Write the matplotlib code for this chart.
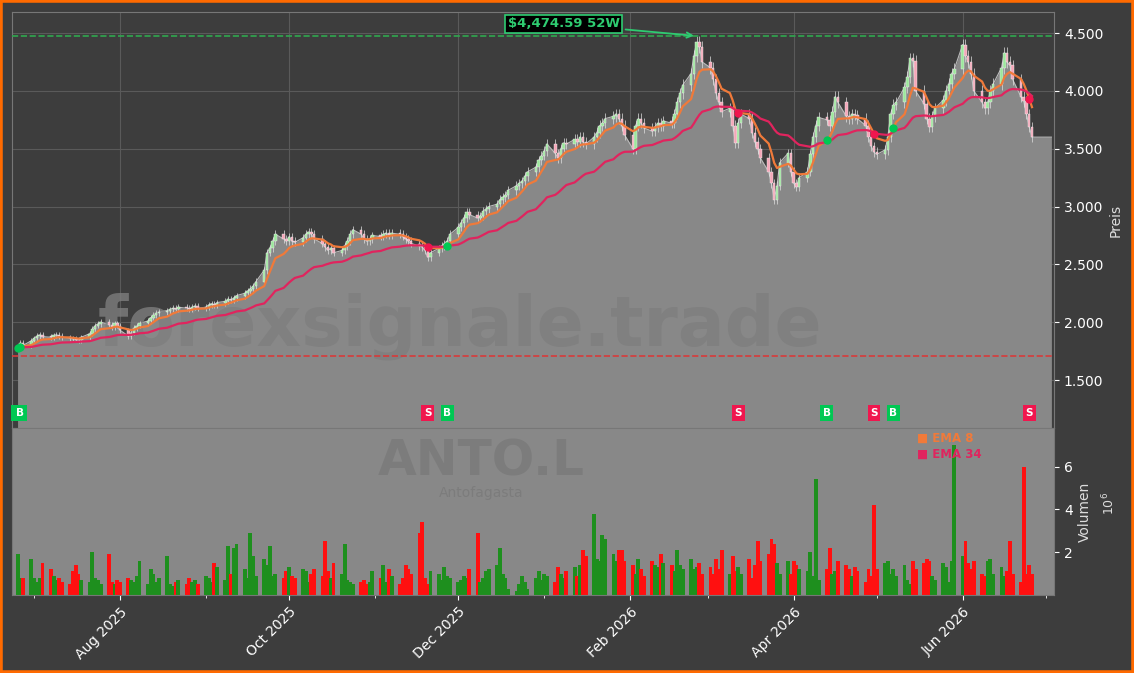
import numpy as np
import pandas as pd
import matplotlib
matplotlib.use("Agg")
import matplotlib.pyplot as plt
import matplotlib.dates as mdates
from matplotlib.ticker import FuncFormatter, FixedLocator

# ---------------- data ----------------
closes_jun25 = [1780, 1820, 1800, 1840]
closes_jul25 = [1860, 1880, 1890, 1875, 1870, 1885, 1890, 1880, 1870, 1860, 1855, 1850, 1845, 1870, 1900, 1940, 1970, 1985, 2000, 1980, 1960, 1990, 1970]
closes_aug25 = [1930, 1880, 1910, 1950, 1970, 1990, 2010, 2040, 2060, 2080, 2090, 2100, 2110, 2120, 2110, 2130, 2120, 2110, 2130, 2140, 2120]
closes_sep25 = [2130, 2150, 2160, 2150, 2170, 2180, 2200, 2190, 2210, 2230, 2250, 2270, 2290, 2310, 2350, 2450, 2600, 2640, 2700, 2760, 2720, 2700]
closes_oct25 = [2740, 2700, 2690, 2730, 2760, 2780, 2760, 2720, 2680, 2650, 2620, 2640, 2600, 2620, 2660, 2700, 2760, 2800, 2760, 2720, 2700, 2720, 2750]
closes_nov25 = [2740, 2760, 2770, 2750, 2770, 2760, 2740, 2720, 2700, 2680, 2660, 2650, 2620, 2560, 2600, 2640, 2660, 2680, 2700, 2760]
closes_dec25 = [2820, 2860, 2900, 2950, 2930, 2900, 2920, 2960, 2980, 3000, 3020, 3060, 3080, 3100, 3140, 3180, 3200, 3220, 3260, 3300, 3340, 3400, 3440]
closes_jan26 = [3480, 3540, 3460, 3420, 3500, 3550, 3540, 3580, 3560, 3600, 3560, 3540, 3600, 3640, 3700, 3720, 3760, 3780, 3800, 3760, 3700, 3620]
closes_feb26 = [3500, 3700, 3760, 3720, 3680, 3650, 3690, 3720, 3700, 3740, 3720, 3800, 3900, 3980, 4050, 4150, 4300, 4420, 4380, 4250]
closes_mar26 = [4200, 4100, 3980, 3900, 3820, 3850, 3700, 3550, 3720, 3800, 3760, 3640, 3560, 3500, 3420, 3300, 3200, 3060, 3180, 3380, 3460, 3300]
closes_apr26 = [3200, 3170, 3250, 3300, 3450, 3600, 3700, 3770, 3750, 3700, 3820, 3950, 3900, 3780, 3760, 3800, 3790, 3760, 3700, 3600, 3520, 3470]
closes_may26 = [3450, 3490, 3600, 3800, 3880, 3900, 4030, 4120, 4280, 4260, 4000, 3890, 3760, 3690, 3780, 3850, 3920, 4000, 4060, 4150, 4190]
closes_jun26 = [4400, 4300, 4250, 4150, 4000, 3900, 3850, 3900, 4000, 4060, 4200, 4330, 4250, 4220, 4100, 3950, 3910, 3800, 3690, 3600]

vol_jun25 = [1.9, 0.8, 0.8, 1.7]
vol_jul25 = [0.8, 0.6, 0.8, 1.5, 1.2, 0.9, 0.7, 0.8, 0.6, 0.5, 1.1, 1.4, 1.0, 0.7, 0.6, 2.0, 0.8, 0.7, 0.5, 1.9, 0.6, 0.5, 0.7]
vol_aug25 = [0.6, 0.8, 0.7, 0.6, 0.9, 1.6, 0.5, 1.2, 1.0, 0.6, 0.8, 1.8, 0.5, 0.4, 0.6, 0.7, 0.5, 0.8, 0.6, 0.7, 0.5]
vol_sep25 = [0.9, 0.8, 0.6, 1.5, 1.3, 0.7, 2.3, 1.0, 2.2, 2.4, 1.2, 0.8, 2.9, 1.8, 0.9, 1.7, 1.4, 2.3, 0.9, 1.0, 0.8, 1.1]
vol_oct25 = [1.3, 0.9, 0.8, 1.2, 1.1, 0.6, 1.0, 1.2, 0.9, 2.5, 1.1, 0.8, 1.5, 1.0, 2.4, 0.7, 0.6, 0.5, 0.6, 0.7, 0.5, 0.6, 1.1]
vol_nov25 = [0.8, 1.4, 0.6, 1.2, 0.9, 0.5, 0.8, 1.4, 1.2, 1.0, 2.9, 3.4, 0.8, 0.5, 1.1, 1.0, 0.7, 1.3, 0.9, 0.8]
vol_dec25 = [0.6, 0.7, 0.9, 0.8, 1.2, 2.9, 0.6, 0.8, 1.1, 1.2, 1.4, 2.2, 1.0, 0.8, 0.3, 0.2, 0.5, 0.9, 0.6, 0.3, 0.8, 1.1, 0.7]
vol_jan26 = [1.0, 0.9, 0.6, 1.3, 1.0, 0.8, 1.1, 1.3, 0.9, 1.4, 2.1, 1.8, 3.8, 1.7, 1.6, 2.8, 2.6, 1.9, 1.6, 2.1, 2.1, 1.6]
vol_feb26 = [1.4, 1.0, 1.7, 1.2, 0.9, 1.6, 1.4, 1.3, 1.9, 1.5, 1.4, 1.1, 2.1, 1.4, 1.2, 1.7, 1.2, 1.3, 1.5, 1.0]
vol_mar26 = [1.3, 1.0, 1.7, 1.2, 2.1, 1.0, 1.8, 1.1, 1.3, 1.0, 1.7, 0.8, 1.4, 2.5, 1.6, 1.9, 2.6, 2.4, 1.5, 1.0, 1.6, 1.0]
vol_apr26 = [1.6, 1.4, 1.2, 1.1, 2.0, 0.9, 5.4, 0.7, 1.2, 2.2, 1.0, 1.1, 1.6, 1.4, 1.2, 0.9, 1.3, 1.1, 0.6, 1.2, 0.9, 4.2]
vol_may26 = [1.2, 1.5, 1.6, 1.0, 1.2, 0.9, 1.4, 0.7, 0.5, 1.6, 1.2, 1.5, 1.7, 1.6, 0.9, 0.7, 1.5, 1.3, 0.6, 1.6, 7.0]
vol_jun26 = [1.8, 2.5, 1.5, 1.2, 1.6, 1.0, 0.9, 1.6, 1.7, 1.0, 1.3, 0.9, 1.1, 2.5, 1.0, 0.6, 6.0, 1.0, 1.4, 1.0]

high_52w = 4474.59
low_52w = 1712.0
ticker = "ANTO.L"
name = "Antofagasta"

# ---------------- build ----------------
closes = np.array(closes_jun25 + closes_jul25 + closes_aug25 + closes_sep25 + closes_oct25 + closes_nov25
                  + closes_dec25 + closes_jan26 + closes_feb26 + closes_mar26 + closes_apr26 + closes_may26 + closes_jun26, float)
vols = np.array(vol_jun25 + vol_jul25 + vol_aug25 + vol_sep25 + vol_oct25 + vol_nov25 + vol_dec25
                + vol_jan26 + vol_feb26 + vol_mar26 + vol_apr26 + vol_may26 + vol_jun26, float)
dates = pd.bdate_range("2025-06-25", "2026-06-26")
n = min(len(dates), len(closes), len(vols))
dates, closes, vols = dates[:n], closes[:n], vols[:n]
opens = np.concatenate([[closes[0]], closes[:-1]])
highs = np.maximum(opens, closes) * 1.012
lows = np.minimum(opens, closes) * 0.988
s = pd.Series(closes, index=dates)
ema8 = s.ewm(span=8, adjust=False).mean().values
ema34 = s.ewm(span=34, adjust=False).mean().values

BG = "#3d3d3d"
FILL = "#888888"
fig = plt.figure(figsize=(11.34, 6.73), dpi=100, facecolor=BG)
fig.patches.append(plt.Rectangle((0, 0), 1, 1, transform=fig.transFigure, fill=False,
                                 edgecolor="#ff6a00", linewidth=4, zorder=100))
ax = fig.add_axes([0.0106, 0.364, 0.919, 0.618], facecolor=BG)
axv = fig.add_axes([0.0106, 0.116, 0.919, 0.248], facecolor=FILL, sharex=ax)

x0 = pd.Timestamp("2025-06-23"); x1 = pd.Timestamp("2026-07-04")
ax.set_xlim(x0, x1)
ax.set_ylim(1085, 4681)

# area
fdates = list(dates) + [pd.Timestamp("2026-07-03")]
fclose = list(closes) + [closes[-1]]
ax.fill_between(fdates, fclose, 1085, color=FILL, zorder=1, linewidth=0)
ax.plot(fdates, fclose, color="#bbbbbb", lw=0.8, zorder=2)
ax.grid(True, color="#5a5a5a", lw=0.8, zorder=0)
ax.set_axisbelow(True)

# watermark
ax.text(0.43, 0.245, "forexsignale.trade", transform=ax.transAxes, fontsize=50, fontweight="bold",
        color="#7e7e7e", alpha=0.8, ha="center", va="center", zorder=2)

# candles
for d, o, h, l, c in zip(dates, opens, highs, lows, closes):
    col = "#9be79b" if c >= o else "#f4a6b8"
    ax.vlines(d, l, h, color="#e0e0e0", lw=0.5, zorder=3)
    ax.bar(d, max(abs(c - o), 8), bottom=min(o, c), width=0.9, color=col, edgecolor="#f0f0f0", lw=0.3, zorder=4)

ax.plot(dates, ema8, color="#f07a3a", lw=1.6, zorder=5)
ax.plot(dates, ema34, color="#e0245e", lw=1.6, zorder=5)

# 52w lines
ax.axhline(high_52w, color="#2fa84f", ls="--", lw=1.2, zorder=3)
ax.axhline(low_52w, color="#d83a3a", ls="--", lw=1.2, zorder=3)
imax = int(np.argmax(highs))
ax.annotate(f"${high_52w:,.2f} 52W", xy=(dates[imax], high_52w), xytext=(pd.Timestamp("2026-01-08"), 4580),
            color="#2ecc71", fontsize=9.5, fontweight="bold", ha="center", va="center",
            bbox=dict(boxstyle="square,pad=0.2", fc="black", ec="#2ecc71", lw=1.2),
            arrowprops=dict(arrowstyle="->", color="#2ecc71", lw=1.3), zorder=6)

# signals
diff = ema8 - ema34
sig_y = 1215
def sig(d, kind):
    fc = "#00c853" if kind == "B" else "#f0164e"
    ax.text(d, sig_y, kind, color="white", fontsize=7.5, fontweight="bold", ha="center", va="center",
            bbox=dict(boxstyle="square,pad=0.25", fc=fc, ec="none"), zorder=7)
sig(dates[0], "B")
ax.scatter([dates[0]], [ema34[0]], color="#00c853", s=25, zorder=6)
for i in range(1, n):
    if diff[i - 1] <= 0 < diff[i]:
        sig(dates[i], "B"); ax.scatter([dates[i]], [ema8[i]], color="#00c853", s=25, zorder=6)
    elif diff[i - 1] >= 0 > diff[i]:
        sig(dates[i], "S"); ax.scatter([dates[i]], [ema8[i]], color="#f0164e", s=25, zorder=6)

ax.yaxis.tick_right()
ax.yaxis.set_label_position("right")
ax.yaxis.set_major_locator(FixedLocator([1500, 2000, 2500, 3000, 3500, 4000, 4500]))
ax.yaxis.set_major_formatter(FuncFormatter(lambda v, p: f"{v:,.0f}".replace(",", ".")))
ax.tick_params(axis="y", colors="white", labelsize=10)
ax.tick_params(axis="x", labelbottom=False, length=0)
ax.set_ylabel("Preis", color="#dddddd", fontsize=10)
for sp in ax.spines.values():
    sp.set_color("#777777")

# volume
vcol = ["#1e8f1e" if c >= o else "#ff1010" for o, c in zip(opens, closes)]
axv.bar(dates, vols, width=1.4, color=vcol, zorder=2)
axv.set_ylim(0, 7.8)
axv.text(0.45, 0.8, ticker, transform=axv.transAxes, fontsize=36, fontweight="bold",
         color="#7c7c7c", ha="center", va="center", zorder=1)
axv.text(0.45, 0.61, name, transform=axv.transAxes, fontsize=10, color="#7c7c7c", ha="center", va="center", zorder=1)
axv.text(0.868, 0.94, "■ EMA 8", transform=axv.transAxes, color="#f07a3a", fontsize=8.5, fontweight="bold", va="center")
axv.text(0.868, 0.84, "■ EMA 34", transform=axv.transAxes, color="#e0245e", fontsize=8.5, fontweight="bold", va="center")
axv.yaxis.tick_right()
axv.yaxis.set_label_position("right")
axv.set_yticks([2, 4, 6])
axv.tick_params(axis="y", colors="white", labelsize=10)
axv.set_ylabel("Volumen", color="#dddddd", fontsize=10)
axv.text(1.045, 0.55, r"$10^6$", transform=axv.transAxes, rotation=90, color="#dddddd", fontsize=9, va="center")
axv.xaxis.set_major_locator(mdates.MonthLocator(bymonth=[2, 4, 6, 8, 10, 12]))
axv.xaxis.set_minor_locator(mdates.MonthLocator())
axv.xaxis.set_major_formatter(mdates.DateFormatter("%b %Y"))
axv.tick_params(axis="x", which="both", colors="white", labelsize=10)
for lbl in axv.get_xticklabels():
    lbl.set_rotation(45); lbl.set_ha("right"); lbl.set_rotation_mode("anchor")
for sp in axv.spines.values():
    sp.set_color("#777777")

fig.savefig("out.png", dpi=100, facecolor=BG)
